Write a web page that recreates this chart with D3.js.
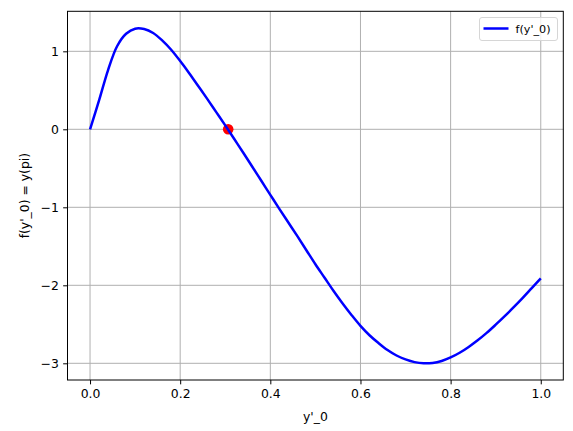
<!DOCTYPE html>
<html>
<head>
<meta charset="utf-8">
<script src="https://cdn.jsdelivr.net/npm/d3@7"></script>
<style>
  body { margin: 0; background: #fff; }
  text { font-family: "DejaVu Sans", sans-serif; fill: #000; }
</style>
</head>
<body>
<svg id="chart" width="573" height="431"></svg>
<script>
// ---- data ----
const slopes = [0.00,0.02,0.04,0.06,0.08,0.10,0.12,0.14,0.16,0.18,0.20,0.22,0.24,0.26,0.28,0.30,0.32,0.34,0.36,0.38,0.40,0.42,0.44,0.46,0.48,0.50,0.52,0.54,0.56,0.58,0.60,0.62,0.64,0.66,0.68,0.70,0.72,0.74,0.76,0.78,0.80,0.82,0.84,0.86,0.88,0.90,0.92,0.94,0.96,0.98,1.00];
const endValues = [0.00,0.37,0.76,1.065,1.225,1.29,1.285,1.235,1.14,1.02,0.875,0.72,0.555,0.39,0.22,0.05,-0.125,-0.30,-0.48,-0.66,-0.84,-1.02,-1.195,-1.37,-1.55,-1.73,-1.90,-2.07,-2.23,-2.38,-2.52,-2.64,-2.74,-2.83,-2.90,-2.95,-2.985,-3.00,-2.995,-2.97,-2.925,-2.865,-2.79,-2.705,-2.61,-2.505,-2.395,-2.28,-2.16,-2.035,-1.91];
const rootPoint = [0.3065, 0.0];
const xTicks = [0.0, 0.2, 0.4, 0.6, 0.8, 1.0];
const yTicks = [1, 0, -1, -2, -3];
const seriesLabel = "f(y'_0)";
const xLabel = "y'_0";
const yLabel = "f(y'_0) = y(pi)";

// ---- layout ----
const L = 67.5, R = 563.3, T = 11.3, B = 380;
const svg = d3.select("#chart");
const x = d3.scaleLinear().domain([-0.05, 1.05]).range([L, R]);
const y = d3.scaleLinear().domain([-3.214, 1.513]).range([B, T]);
const fs = 12.4;

// grid
const g = svg.append("g");
g.selectAll(".gx").data(xTicks).enter().append("line")
  .attr("x1", d => x(d)).attr("x2", d => x(d)).attr("y1", T).attr("y2", B)
  .attr("stroke", "#b0b0b0").attr("stroke-width", 1);
g.selectAll(".gy").data(yTicks).enter().append("line")
  .attr("y1", d => y(d)).attr("y2", d => y(d)).attr("x1", L).attr("x2", R)
  .attr("stroke", "#b0b0b0").attr("stroke-width", 1);

// axes
const fmtX = d => d.toFixed(1);
const fmtY = d => (d < 0 ? "\u2212" + Math.abs(d) : "" + d);
const xAxis = d3.axisBottom(x).tickValues(xTicks).tickFormat(fmtX).tickSize(4.35).tickPadding(4.35);
const yAxis = d3.axisLeft(y).tickValues(yTicks).tickFormat(fmtY).tickSize(4.35).tickPadding(4.35);
const gx = svg.append("g").attr("transform", `translate(0,${B})`).call(xAxis);
const gy = svg.append("g").attr("transform", `translate(${L},0)`).call(yAxis);
[gx, gy].forEach(a => {
  a.select(".domain").remove();
  a.selectAll("line").attr("stroke", "#000").attr("stroke-width", 1);
  a.selectAll("text").attr("font-size", fs).attr("font-family", "DejaVu Sans").attr("fill", "#000");
});

// spines
svg.append("rect").attr("x", L).attr("y", T).attr("width", R - L).attr("height", B - T)
  .attr("fill", "none").attr("stroke", "#000").attr("stroke-width", 1);

// root point (under line)
svg.append("circle").attr("cx", x(rootPoint[0])).attr("cy", y(rootPoint[1])).attr("r", 5.3).attr("fill", "red");

// curve
const pts = slopes.map((s, i) => [s, endValues[i]]);
svg.append("path").datum(pts)
  .attr("d", d3.line().x(d => x(d[0])).y(d => y(d[1])).curve(d3.curveCatmullRom))
  .attr("fill", "none").attr("stroke", "blue").attr("stroke-width", 2.5);

// axis labels
svg.append("text").attr("x", (L + R) / 2).attr("y", 421).attr("text-anchor", "middle")
  .attr("font-size", fs).text(xLabel);
svg.append("text").attr("transform", `translate(29,${(T + B) / 2}) rotate(-90)`)
  .attr("text-anchor", "middle").attr("font-size", fs).text(yLabel);

// legend
const lg = svg.append("g");
lg.append("rect").attr("x", 479.5).attr("y", 17.5).attr("width", 78).attr("height", 23).attr("rx", 2.5)
  .attr("fill", "#fff").attr("fill-opacity", 0.8).attr("stroke", "#d6d6d6").attr("stroke-width", 1);
lg.append("line").attr("x1", 483.5).attr("x2", 508.5).attr("y1", 28.5).attr("y2", 28.5)
  .attr("stroke", "blue").attr("stroke-width", 2.5);
lg.append("text").attr("x", 515.5).attr("y", 32.5).attr("font-size", 11.2).text(seriesLabel);
</script>
</body>
</html>
